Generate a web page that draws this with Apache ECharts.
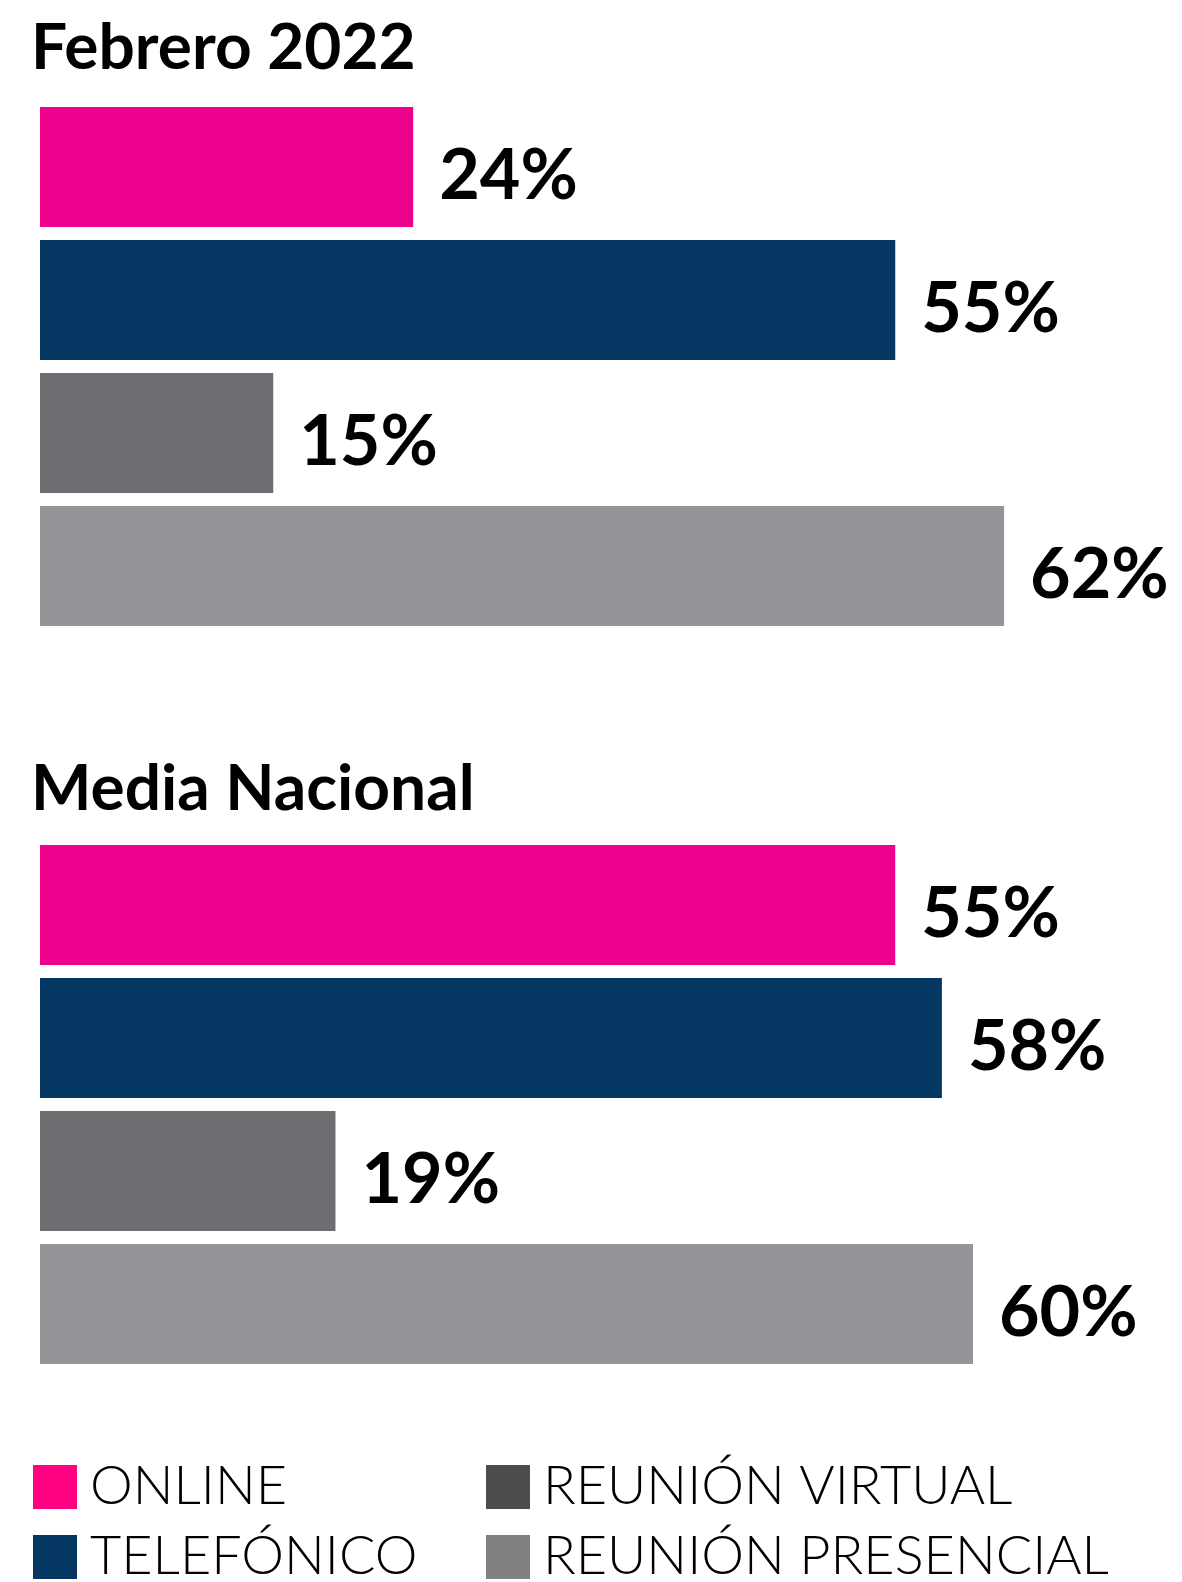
<!DOCTYPE html>
<html>
<head>
<meta charset="utf-8">
<script src="https://cdn.jsdelivr.net/npm/echarts@6/dist/echarts.min.js"></script>
<style>
  html, body { margin: 0; padding: 0; background: #fff; }
  #chart { width: 1182px; height: 1582px; }
</style>
</head>
<body>
<div id="chart"></div>
<script>
// datos
var categories = ["ONLINE", "TELEFÓNICO", "REUNIÓN VIRTUAL", "REUNIÓN PRESENCIAL"];
var febrero2022 = [24, 55, 15, 62];
var mediaNacional = [55, 58, 19, 60];
var groupTitles = ["Febrero 2022", "Media Nacional"];

var barColors = ["#EC008C", "#043863", "#6D6E71", "#939598"];
var legendColors = ["#FF0080", "#043863", "#4D4D4D", "#808080"];
var groups = [febrero2022, mediaNacional];

var chart = echarts.init(document.getElementById("chart"));

var gridTops = [100.5, 838.5];
var series = [];
groups.forEach(function (values, g) {
  categories.forEach(function (cat, i) {
    series.push({
      type: "bar",
      name: cat,
      xAxisIndex: g,
      yAxisIndex: g,
      barWidth: 120,
      barGap: "-100%",
      animation: false,
      itemStyle: { color: barColors[i] },
      label: {
        show: true,
        position: "right",
        distance: 26,
        offset: [0, 9],
        formatter: "{c}%",
        color: "#000",
        fontFamily: "Lato",
        fontWeight: "bold",
        fontSize: 70
      },
      data: categories.map(function (c, j) {
        return j === i ? values[j] : "-";
      })
    });
  });
});

// leyenda: una por elemento para fijar la rejilla 2x2
var legendLefts = [33, 33, 486, 486];
var legendTops = [1460, 1530, 1460, 1530];

var legends = categories.map(function (cat, i) {
  return {
    left: legendLefts[i],
    top: legendTops[i],
    padding: 0,
    itemWidth: 44,
    itemHeight: 44,
    icon: "rect",
    selectedMode: false,
    textStyle: {
      fontFamily: "Lato",
      fontWeight: 300,
      fontSize: 54,
      color: "#000",
      padding: [0, 0, 0, 8]
    },
    data: [{ name: cat, itemStyle: { color: legendColors[i] } }]
  };
});

var option = {
  backgroundColor: "#fff",
  title: groupTitles.map(function (t, g) {
    return {
      text: t,
      left: 26,
      top: g === 0 ? 11 : 752,
      textStyle: { fontFamily: "Lato", fontWeight: "bold", fontSize: 64, color: "#000" }
    };
  }),
  grid: gridTops.map(function (top) {
    return { left: 40, top: top, width: 1088.5, height: 532 };
  }),
  xAxis: gridTops.map(function (t, g) {
    return { type: "value", gridIndex: g, min: 0, max: 70, show: false };
  }),
  yAxis: gridTops.map(function (t, g) {
    return { type: "category", gridIndex: g, data: categories, inverse: true, show: false };
  }),
  legend: legends,
  series: series
};

chart.setOption(option);
</script>
</body>
</html>
